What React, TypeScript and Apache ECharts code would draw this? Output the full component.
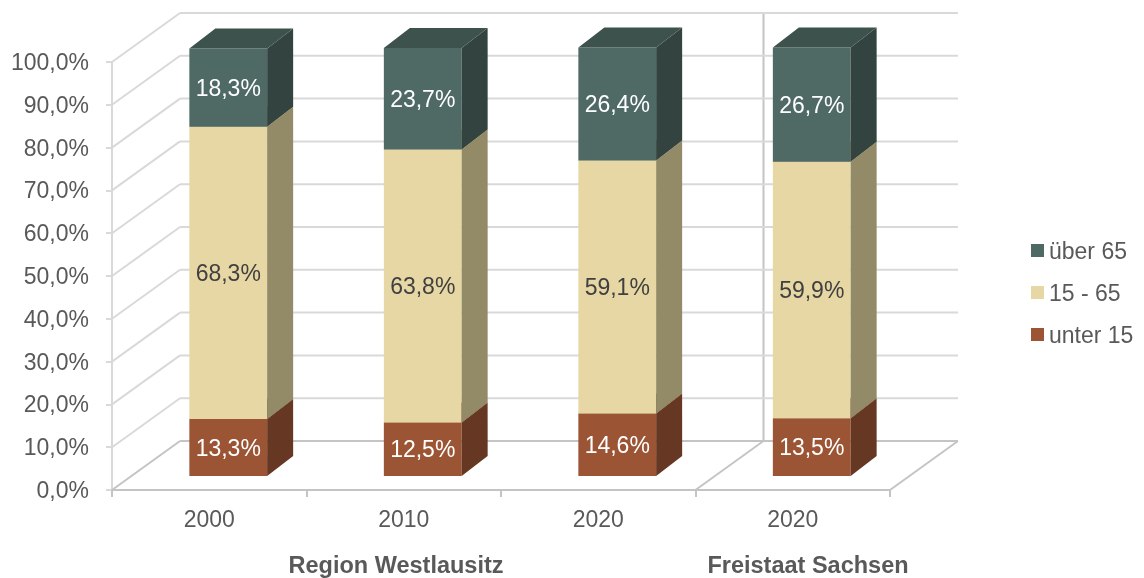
import React, { useEffect, useRef } from "react";
import * as echarts from "echarts";

const categories = ["2000", "2010", "2020", "2020"];
const unter15 = [13.3, 12.5, 14.6, 13.5];
const mitte = [68.3, 63.8, 59.1, 59.9];
const ueber65 = [18.3, 23.7, 26.4, 26.7];
const seriesNames = ["unter 15", "15 - 65", "über 65"];
const legendOrder = ["über 65", "15 - 65", "unter 15"];
const yTicks = [0, 10, 20, 30, 40, 50, 60, 70, 80, 90, 100];
const groupLabels = ["Region Westlausitz", "Freistaat Sachsen"];

const FONT = "'Liberation Sans', Arial, sans-serif";
const WALL_DX = 68;
const WALL_DY = -49;
const FRONT_DX = 19;
const FRONT_DY = -14;
const SIDE_DX = 26;
const SIDE_DY = -20;

const palettes = [
  { front: "#9b5535", side: "#663823", top: "#7e4529", label: "#ffffff" },
  { front: "#e7d7a4", side: "#938a68", top: "#cbbd8d", label: "#404040" },
  { front: "#4f6a65", side: "#334440", top: "#3d524c", label: "#ffffff" },
];

const fmt = (v: number) => v.toFixed(1).replace(".", ",") + "%";

export default function App() {
  const ref = useRef<HTMLDivElement>(null);
  useEffect(() => {
    if (!ref.current) return;
    const chart = echarts.init(ref.current, undefined, { renderer: "svg" });
    const stacks = [unter15, mitte, ueber65];
    const barSeries = stacks.map((vals, s) => {
      const data = vals.map((v, i) => {
        let base = 0;
        for (let k = 0; k < s; k++) base += stacks[k][i];
        return [i, base, base + v, v];
      });
      const pal = palettes[s];
      return {
        type: "custom",
        name: seriesNames[s],
        z: 3 + s,
        itemStyle: { color: pal.front },
        clip: false,
        encode: { x: 0, y: 2 },
        data,
        renderItem: (params: any, api: any) => {
          const i = api.value(0);
          const base = api.value(1);
          const top = api.value(2);
          const val = api.value(3);
          const bw = api.size([1, 0])[0];
          const cx = api.coord([i, 0])[0];
          const w = bw * 0.4;
          const x0 = cx - w / 2 + FRONT_DX;
          const x1 = x0 + w;
          const yB = api.coord([i, base])[1] + FRONT_DY;
          const yT = api.coord([i, top])[1] + FRONT_DY;
          return {
            type: "group",
            children: [
              {
                type: "rect",
                shape: { x: x0, y: yT, width: w, height: yB - yT },
                style: { fill: pal.front },
              },
              {
                type: "polygon",
                shape: {
                  points: [
                    [x1, yB],
                    [x1 + SIDE_DX, yB + SIDE_DY],
                    [x1 + SIDE_DX, yT + SIDE_DY],
                    [x1, yT],
                  ],
                },
                style: { fill: pal.side },
              },
              {
                type: "polygon",
                shape: {
                  points: [
                    [x0, yT],
                    [x1, yT],
                    [x1 + SIDE_DX, yT + SIDE_DY],
                    [x0 + SIDE_DX, yT + SIDE_DY],
                  ],
                },
                style: { fill: pal.top },
              },
              {
                type: "text",
                style: {
                  text: fmt(val),
                  x: (x0 + x1) / 2,
                  y: (yB + yT) / 2,
                  align: "center",
                  verticalAlign: "middle",
                  fill: pal.label,
                  font: `23px ${FONT}`,
                },
              },
            ],
          };
        },
      };
    });

    const wallSeries = {
      type: "custom",
      name: "walls",
      z: 1,
      silent: true,
      clip: false,
      encode: { x: 0, y: 1 },
      data: yTicks.map((v) => [0, v]),
      renderItem: (params: any, api: any) => {
        const v = api.value(1);
        const bw = api.size([1, 0])[0];
        const n = categories.length;
        const L = api.coord([0, v])[0] - bw / 2;
        const R = api.coord([n - 1, v])[0] + bw / 2;
        const y = api.coord([0, v])[1];
        const grid = "#d9d9d9";
        const floor = "#c4c4c4";
        const isFloor = v === 0;
        const col = isFloor ? floor : grid;
        const children: any[] = [
          {
            type: "line",
            shape: { x1: L, y1: y, x2: L + WALL_DX, y2: y + WALL_DY },
            style: { stroke: col, lineWidth: 2 },
          },
          {
            type: "line",
            shape: { x1: L + WALL_DX, y1: y + WALL_DY, x2: R + WALL_DX, y2: y + WALL_DY },
            style: { stroke: col, lineWidth: 2 },
          },
        ];
        if (isFloor) {
          const D = api.coord([n - 1, 0])[0] - bw / 2;
          const yTop = api.coord([0, yTicks[yTicks.length - 1]])[1];
          children.push(
            {
              type: "line",
              shape: { x1: D, y1: y, x2: D + WALL_DX, y2: y + WALL_DY },
              style: { stroke: floor, lineWidth: 2 },
            },
            {
              type: "line",
              shape: { x1: R, y1: y, x2: R + WALL_DX, y2: y + WALL_DY },
              style: { stroke: floor, lineWidth: 2 },
            },
            {
              type: "line",
              shape: { x1: D + WALL_DX, y1: y + WALL_DY, x2: D + WALL_DX, y2: yTop + WALL_DY },
              style: { stroke: floor, lineWidth: 2 },
            }
          );
        }
        return { type: "group", children };
      },
    };

    chart.setOption({
      animation: false,
      textStyle: { fontFamily: FONT },
      grid: { left: 112, top: 62, width: 778, height: 428, containLabel: false },
      legend: {
        orient: "vertical",
        left: 1026,
        top: 234,
        itemWidth: 13,
        itemHeight: 13,
        itemGap: 19,
        icon: "rect",
        data: legendOrder,
        textStyle: { fontSize: 23, color: "#595959", fontFamily: FONT, lineHeight: 23 },
      },
      xAxis: {
        type: "category",
        data: categories,
        boundaryGap: true,
        axisLine: { show: true, lineStyle: { color: "#c4c4c4", width: 2 } },
        axisTick: { show: true, length: 7, lineStyle: { color: "#c4c4c4", width: 2 } },
        axisLabel: { fontSize: 23, color: "#595959", margin: 17, lineHeight: 23, fontFamily: FONT },
        splitLine: { show: false },
      },
      yAxis: {
        type: "value",
        min: 0,
        max: 100,
        interval: 10,
        axisLine: { show: true, lineStyle: { color: "#d9d9d9", width: 2 } },
        axisTick: { show: true, length: 6, lineStyle: { color: "#d9d9d9", width: 2 } },
        axisLabel: { fontSize: 23, color: "#595959", margin: 23, formatter: (v: number) => fmt(v), fontFamily: FONT },
        splitLine: { show: false },
      },
      graphic: [
        {
          type: "text",
          x: 396,
          y: 565,
          style: {
            text: groupLabels[0],
            align: "center",
            verticalAlign: "middle",
            fill: "#595959",
            font: `bold 23.5px ${FONT}`,
          },
        },
        {
          type: "text",
          x: 808,
          y: 565,
          style: {
            text: groupLabels[1],
            align: "center",
            verticalAlign: "middle",
            fill: "#595959",
            font: `bold 23.5px ${FONT}`,
          },
        },
      ],
      series: [wallSeries, ...barSeries],
    });
    return () => chart.dispose();
  }, []);
  return (
    <div
      ref={ref}
      style={{ position: "fixed", left: 0, top: 0, width: 1144, height: 578 }}
    />
  );
}
